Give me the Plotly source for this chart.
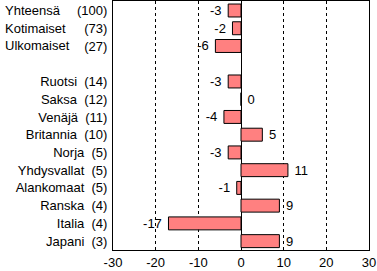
import plotly.graph_objects as go

names = ["Yhteensä", "Kotimaiset", "Ulkomaiset", "", "Ruotsi", "Saksa", "Venäjä",
         "Britannia", "Norja", "Yhdysvallat", "Alankomaat", "Ranska", "Italia", "Japani"]
counts = ["(100)", "(73)", "(27)", "", "(14)", "(12)", "(11)", "(10)", "(5)", "(5)", "(5)", "(4)", "(4)", "(3)"]
values = [-3, -2, -6, None, -3, 0, -4, 5, -3, 11, -1, 9, -17, 9]
x_ticks = [-30, -20, -10, 0, 10, 20, 30]

FONT = "Liberation Sans, Arial"
NB = "\u00a0"
keys = [f"k{i}" for i in range(len(names))]
ticktext = []
for i, (n, c) in enumerate(zip(names, counts)):
    if n == "":
        ticktext.append("")
    elif i < 3:
        ticktext.append(c)
    else:
        ticktext.append(n + NB * 2 + c)

texts = []
for v in values:
    if v is None:
        texts.append("")
    elif v < 0:
        texts.append(f"{v}{NB}")
    else:
        texts.append(f"{NB}{v}")

fig = go.Figure(go.Bar(
    x=values, y=keys, orientation="h",
    marker=dict(color="#FF8080", line=dict(color="black", width=1)),
    text=texts, textposition="outside", cliponaxis=False, constraintext="none",
    textfont=dict(family=FONT, size=13, color="black"),
))

for i in range(3):
    fig.add_annotation(
        x=-0.43, xref="paper", y=keys[i], yref="y", text=names[i],
        xanchor="left", yanchor="middle", showarrow=False,
        font=dict(family=FONT, size=13, color="black"),
    )

fig.update_layout(
    width=377, height=271,
    margin=dict(l=113, r=8, t=1, b=21),
    paper_bgcolor="white", plot_bgcolor="white",
    bargap=0.27, showlegend=False,
    font=dict(family=FONT, size=13, color="black"),
)
fig.update_xaxes(
    range=[-30, 30], tickvals=x_ticks, ticktext=[str(t) for t in x_ticks],
    showgrid=True, gridcolor="black", griddash="3px,3px", gridwidth=1,
    zeroline=True, zerolinecolor="black", zerolinewidth=1,
    showline=True, linecolor="black", linewidth=1, mirror=True,
    ticks="", tickfont=dict(size=13),
)
fig.update_yaxes(
    autorange="reversed", type="category",
    tickvals=keys, ticktext=ticktext,
    showline=True, linecolor="black", linewidth=1, mirror=True,
    showgrid=False, ticks="", tickfont=dict(size=13), ticklabelstandoff=2,
)
fig.write_html("out.html")
